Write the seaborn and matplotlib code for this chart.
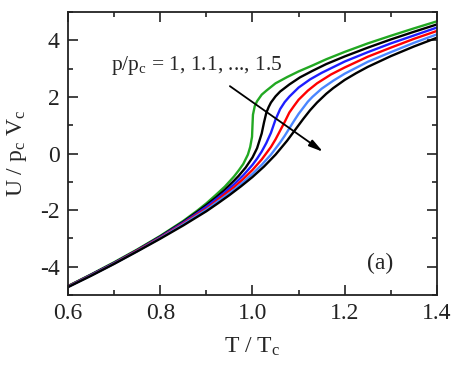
import matplotlib
matplotlib.use("Agg")
import matplotlib.pyplot as plt
import seaborn as sns
import pandas as pd
from matplotlib.ticker import MultipleLocator

# ---- data (T/Tc, U/(pc Vc)) for p/pc = 1.0 ... 1.5 ----
pressures = ["1.0", "1.1", "1.2", "1.3", "1.4", "1.5"]
colors = ["#22a822", "#000000", "#1e1eff", "#ff0000", "#4a86ff", "#000000"]

T_p10 = [0.60, 0.65, 0.70, 0.75, 0.80, 0.85, 0.88, 0.90, 0.92, 0.94, 0.96, 0.97, 0.98, 0.99,
         0.995, 0.999, 1.000, 1.001, 1.005, 1.010, 1.020, 1.030, 1.050, 1.075, 1.10, 1.13,
         1.16, 1.20, 1.25, 1.30, 1.35, 1.40]
U_p10 = [-4.68, -4.27, -3.84, -3.39, -2.91, -2.38, -2.02, -1.76, -1.47, -1.17, -0.81, -0.60,
         -0.37, -0.04, 0.23, 0.59, 1.00, 1.37, 1.68, 1.85, 2.08, 2.22, 2.48, 2.70, 2.90, 3.11,
         3.33, 3.59, 3.89, 4.16, 4.42, 4.67]

T_p11 = [0.60, 0.65, 0.70, 0.75, 0.80, 0.85, 0.88, 0.90, 0.92, 0.94, 0.96, 0.97, 0.985, 1.000,
         1.010, 1.020, 1.025, 1.030, 1.035, 1.040, 1.050, 1.060, 1.080, 1.103, 1.13, 1.16,
         1.20, 1.25, 1.30, 1.35, 1.40]
U_p11 = [-4.69, -4.28, -3.86, -3.41, -2.93, -2.41, -2.06, -1.82, -1.56, -1.28, -0.96, -0.79,
         -0.50, -0.14, 0.19, 0.71, 1.10, 1.44, 1.64, 1.80, 2.02, 2.19, 2.44, 2.69, 2.92, 3.16,
         3.43, 3.74, 4.03, 4.30, 4.56]

T_p12 = [0.60, 0.65, 0.70, 0.75, 0.80, 0.85, 0.88, 0.90, 0.92, 0.94, 0.96, 0.98, 1.00, 1.01,
         1.02, 1.03, 1.04, 1.05, 1.06, 1.07, 1.08, 1.10, 1.125, 1.15, 1.20, 1.25, 1.30, 1.35,
         1.40]
U_p12 = [-4.70, -4.29, -3.87, -3.42, -2.95, -2.44, -2.11, -1.88, -1.63, -1.37, -1.09, -0.77,
         -0.40, -0.18, 0.07, 0.37, 0.73, 1.20, 1.57, 1.82, 2.01, 2.33, 2.62, 2.85, 3.25, 3.58,
         3.89, 4.17, 4.45]

T_p13 = [0.60, 0.65, 0.70, 0.75, 0.80, 0.85, 0.88, 0.90, 0.92, 0.94, 0.96, 0.98, 1.00, 1.02,
         1.04, 1.05, 1.06, 1.07, 1.08, 1.09, 1.10, 1.12, 1.14, 1.17, 1.20, 1.25, 1.30, 1.35,
         1.40]
U_p13 = [-4.70, -4.30, -3.88, -3.43, -2.97, -2.47, -2.15, -1.95, -1.70, -1.44, -1.19, -0.90,
         -0.58, -0.21, 0.23, 0.50, 0.81, 1.12, 1.45, 1.68, 1.90, 2.22, 2.48, 2.79, 3.04, 3.42,
         3.74, 4.05, 4.33]

T_p14 = [0.60, 0.65, 0.70, 0.75, 0.80, 0.85, 0.88, 0.90, 0.92, 0.94, 0.96, 0.98, 1.00, 1.02,
         1.04, 1.06, 1.07, 1.08, 1.09, 1.10, 1.12, 1.13, 1.15, 1.175, 1.20, 1.25, 1.30, 1.35,
         1.40]
U_p14 = [-4.71, -4.31, -3.89, -3.45, -2.99, -2.50, -2.19, -1.99, -1.75, -1.52, -1.28, -1.01,
         -0.72, -0.40, -0.04, 0.39, 0.63, 0.89, 1.15, 1.40, 1.83, 2.00, 2.29, 2.57, 2.82, 3.24,
         3.58, 3.91, 4.21]

T_p15 = [0.60, 0.65, 0.70, 0.75, 0.80, 0.85, 0.88, 0.90, 0.925, 0.95, 0.975, 1.00, 1.025,
         1.05, 1.075, 1.09, 1.11, 1.125, 1.14, 1.16, 1.175, 1.20, 1.225, 1.25, 1.30, 1.35, 1.40]
U_p15 = [-4.72, -4.32, -3.90, -3.46, -3.01, -2.54, -2.24, -2.04, -1.76, -1.47, -1.16, -0.83,
         -0.46, -0.04, 0.45, 0.78, 1.22, 1.53, 1.80, 2.11, 2.31, 2.60, 2.84, 3.06, 3.44, 3.78,
         4.09]

curves_T = [T_p10, T_p11, T_p12, T_p13, T_p14, T_p15]
curves_U = [U_p10, U_p11, U_p12, U_p13, U_p14, U_p15]

x_ticks = [0.6, 0.8, 1.0, 1.2, 1.4]
x_tick_labels = ["0.6", "0.8", "1.0", "1.2", "1.4"]
y_ticks = [-4, -2, 0, 2, 4]
y_tick_labels = ["-4", "-2", "0", "2", "4"]

rows = []
for p, Ts, Us in zip(pressures, curves_T, curves_U):
    for t, u in zip(Ts, Us):
        rows.append({"T": t, "U": u, "p": p})
df = pd.DataFrame(rows)

# ---- styling ----
sns.set_theme(style="ticks")
plt.rcParams["font.family"] = ["Liberation Serif", "DejaVu Serif"]
plt.rcParams["mathtext.fontset"] = "custom"
plt.rcParams["mathtext.rm"] = "Liberation Serif"
plt.rcParams["mathtext.it"] = "Liberation Serif:italic"

fig = plt.figure(figsize=(4.57, 3.75), dpi=100)
ax = fig.add_axes([0.149, 0.2133, 0.807, 0.7547])

sns.lineplot(data=df, x="T", y="U", hue="p", palette=colors, sort=False,
             estimator=None, linewidth=1.7, legend=False, ax=ax)

ax.set_xlim(0.6, 1.4)
ax.set_ylim(-5, 5)
ax.set_xticks(x_ticks)
ax.set_xticklabels(x_tick_labels)
ax.set_yticks(y_ticks)
ax.set_yticklabels(y_tick_labels)
ax.xaxis.set_minor_locator(MultipleLocator(0.1))
ax.yaxis.set_minor_locator(MultipleLocator(1))
ax.tick_params(which="both", direction="in", top=True, right=True,
               labelsize=17, colors="#222222", width=1.2, pad=6)
ax.tick_params(which="major", length=7)
ax.tick_params(which="minor", length=3.5)
for s in ax.spines.values():
    s.set_linewidth(1.3)
    s.set_color("#222222")

ax.set_xlabel("T / T$_\\mathrm{c}$", fontsize=17, labelpad=8)
ax.set_ylabel("U / p$_\\mathrm{c}$ V$_\\mathrm{c}$", fontsize=17, labelpad=8)

ax.text(0.6 + (111 - 68) / 461.25, 2.7, "p/p$_\\mathrm{c}$ = 1, 1.1, ..., 1.5",
        fontsize=15.5, ha="left", va="bottom")
ax.annotate("", xy=(1.153, 0.06), xytext=(0.951, 2.38),
            arrowprops=dict(arrowstyle="-|>,head_length=0.7,head_width=0.18",
                            color="black", lw=1.3, shrinkA=0, shrinkB=0))
ax.text(1.276, -3.88, "(a)", fontsize=17, ha="center", va="center")

fig.savefig("out.png", dpi=100)
